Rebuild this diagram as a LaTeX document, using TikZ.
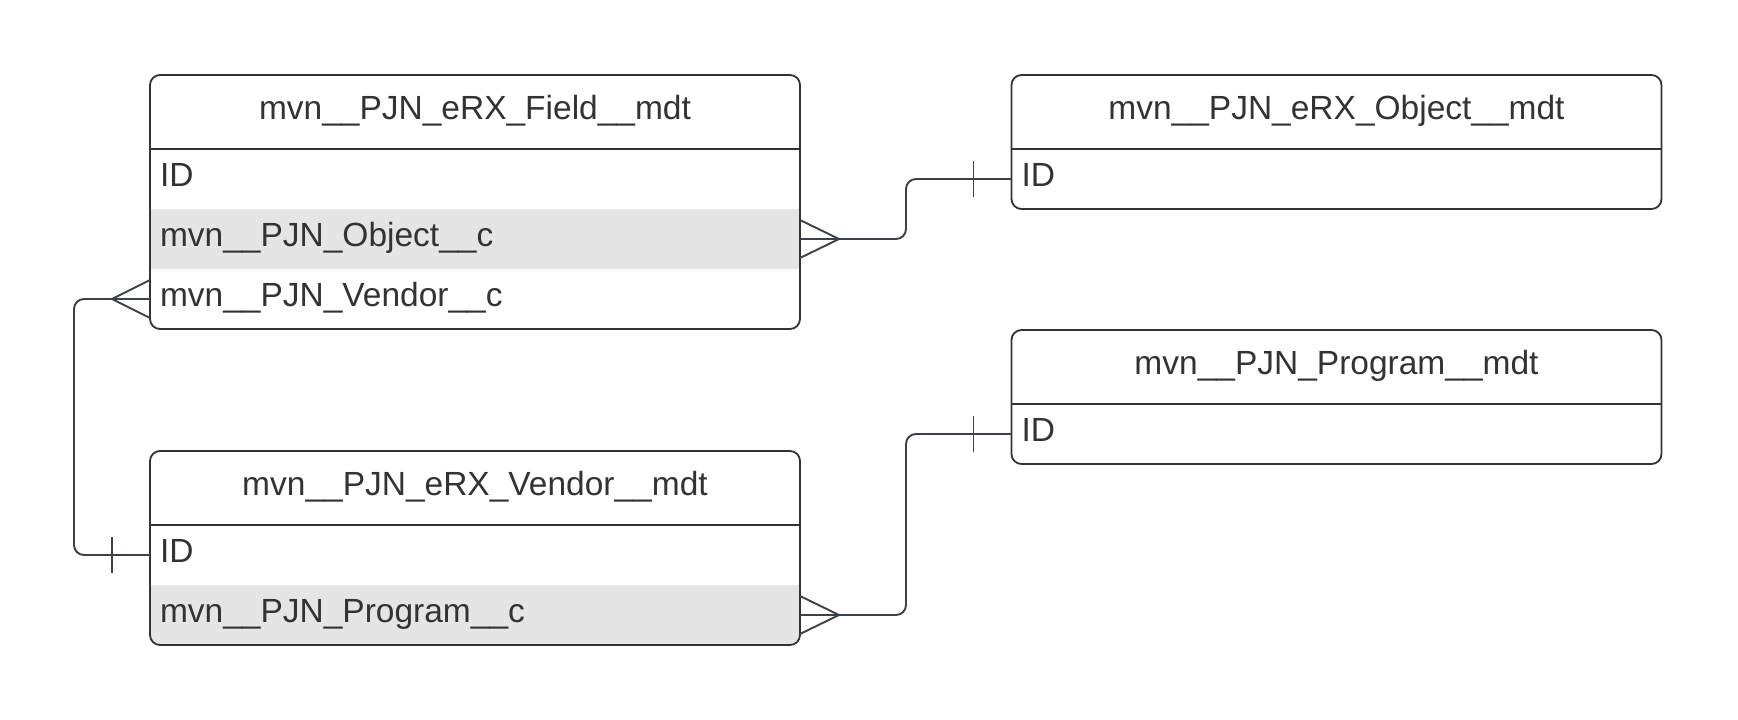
\documentclass[tikz,border=0pt]{standalone}
\usepackage{fontspec}
\setmainfont{Liberation Sans}
\usetikzlibrary{backgrounds}
\definecolor{ink}{HTML}{333333}
\definecolor{lineC}{HTML}{3A414A}
\definecolor{rowgray}{HTML}{E5E5E5}
\begin{document}
\begin{tikzpicture}[x=1pt,y=-1pt,
  every node/.style={font=\fontsize{33.5}{40}\selectfont, text=ink, outer sep=0pt},
  box/.style={draw=ink, line width=1.8pt, rounded corners=10pt, minimum width=650pt, inner sep=0pt},
  hdr/.style={minimum width=650pt, minimum height=74pt, inner sep=0pt, text height=20pt, text depth=5.4pt},
  row/.style={minimum height=60pt, text width=630pt, inner xsep=10pt, inner ysep=0pt, align=left, text height=20pt, text depth=5.4pt},
  sep/.style={draw=ink, line width=1.8pt},
  conn/.style={draw=lineC, line width=1.9pt, rounded corners=10pt},
  foot/.style={draw=lineC, line width=1.9pt}
]
\useasboundingbox (0,0) rectangle (1738,720);

% ---- Field table
\node[box, minimum height=254pt] (field) at (475,202) {};
\node[hdr] (fieldH) at (475,112) {mvn\_\_PJN\_eRX\_Field\_\_mdt};
\node[row] (fieldID) at (475,179) {ID};
\node[row] (fieldObj) at (475,239) {mvn\_\_PJN\_Object\_\_c};
\node[row] (fieldVen) at (475,299) {mvn\_\_PJN\_Vendor\_\_c};
\draw[sep] (fieldH.south west) -- (fieldH.south east);

% ---- Object table
\node[box, minimum height=134pt] (object) at (1336.5,142) {};
\node[hdr] (objH) at (1336.5,112) {mvn\_\_PJN\_eRX\_Object\_\_mdt};
\node[row] (objID) at (1336.5,179) {ID};
\draw[sep] (objH.south west) -- (objH.south east);

% ---- Program table
\node[box, minimum height=134pt] (program) at (1336.5,397) {};
\node[hdr] (progH) at (1336.5,367) {mvn\_\_PJN\_Program\_\_mdt};
\node[row] (progID) at (1336.5,434) {ID};
\draw[sep] (progH.south west) -- (progH.south east);

% ---- Vendor table
\node[box, minimum height=194pt] (vendor) at (475,548) {};
\node[hdr] (venH) at (475,488) {mvn\_\_PJN\_eRX\_Vendor\_\_mdt};
\node[row] (venID) at (475,555) {ID};
\node[row] (venProg) at (475,615) {mvn\_\_PJN\_Program\_\_c};
\draw[sep] (venH.south west) -- (venH.south east);

% ---- gray rows
\begin{scope}[on background layer]
  \fill[rowgray] (fieldObj.north west) rectangle (fieldObj.south east);
  \clip[rounded corners=10pt] (vendor.north west) rectangle (vendor.south east);
  \fill[rowgray] (venProg.north west) rectangle (venProg.south east);
\end{scope}

% ---- connectors
% Field.Object -> Object.ID
\draw[conn] (fieldObj.east) -- ++(106,0) |- (objID.west);
\draw[foot] (fieldObj.east) ++(0,-19) -- ++(39,19) -- ++(-39,19);
\draw[foot] (objID.west) ++(-38,-18) -- ++(0,36);

% Field.Vendor -> Vendor.ID
\draw[conn] (fieldVen.west) -- ++(-76,0) |- (venID.west);
\draw[foot] (fieldVen.west) ++(0,-19) -- ++(-38,19) -- ++(38,19);
\draw[foot] (venID.west) ++(-38,-18) -- ++(0,36);

% Vendor.Program -> Program.ID
\draw[conn] (venProg.east) -- ++(106,0) |- (progID.west);
\draw[foot] (venProg.east) ++(0,-19) -- ++(39,19) -- ++(-39,19);
\draw[foot] (progID.west) ++(-38,-18) -- ++(0,36);
\end{tikzpicture}
\end{document}
